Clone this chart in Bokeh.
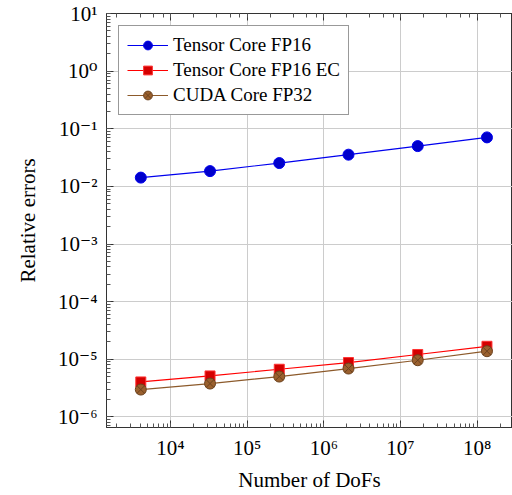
from bokeh.plotting import figure
from bokeh.models import LogAxis, CustomJSTickFormatter, Range1d, LogTicker
from bokeh.embed import file_html
from bokeh.resources import INLINE

# ---- data ----
dofs = [4096, 32768, 262144, 2097152, 16777216, 134217728]
tc_fp16 = [0.0142, 0.0184, 0.0254, 0.0355, 0.0500, 0.0708]
tc_fp16_ec = [4.04e-6, 5.14e-6, 6.71e-6, 8.77e-6, 1.21e-5, 1.68e-5]
cuda_fp32 = [2.98e-6, 3.79e-6, 5.01e-6, 6.90e-6, 9.62e-6, 1.38e-5]
series_names = ["Tensor Core FP16", "Tensor Core FP16 EC", "CUDA Core FP32"]
x_label = "Number of DoFs"
y_label = "Relative errors"

SERIF = "Liberation Serif, DejaVu Serif"

sup_code = """
const sup = {'0':'\u2070','1':'\u00b9','2':'\u00b2','3':'\u00b3','4':'\u2074','5':'\u2075','6':'\u2076','7':'\u2077','8':'\u2078','9':'\u2079','-':'\u207b'};
const e = Math.round(Math.log10(tick));
return '10' + String(e).split('').map(c => sup[c]).join('');
"""

p = figure(frame_width=406, frame_height=414,
           x_axis_type="log", y_axis_type="log",
           x_range=Range1d(1462, 2.89e8), y_range=Range1d(10 ** -6.184, 10),
           output_backend="svg", toolbar_location=None,
           min_border_left=106, min_border_right=0, min_border_top=13, min_border_bottom=66)

p.background_fill_color = "white"
p.border_fill_color = "white"
p.outline_line_color = "#333333"
p.outline_line_width = 1

for ax in (p.xaxis[0], p.yaxis[0]):
    ax.formatter = CustomJSTickFormatter(code=sup_code)
    ax.major_tick_in = 7
    ax.major_tick_out = 0
    ax.minor_tick_in = 4
    ax.minor_tick_out = 0
    ax.axis_line_color = "#333333"
    ax.major_tick_line_color = "#333333"
    ax.minor_tick_line_color = "#555555"
    ax.major_label_text_font = SERIF
    ax.major_label_text_font_size = "21px"
    ax.major_label_text_color = "black"
    ax.axis_label_text_font = SERIF
    ax.axis_label_text_font_size = "21px"
    ax.axis_label_text_font_style = "normal"
    ax.axis_label_text_color = "black"

p.xaxis.axis_label = x_label
p.yaxis.axis_label = y_label
p.xaxis.major_label_standoff = 8
p.xaxis.axis_label_standoff = 5
p.yaxis.major_label_standoff = 9
p.yaxis.axis_label_standoff = 15

top = LogAxis(ticker=LogTicker(), formatter=CustomJSTickFormatter(code="return ''"),
              major_tick_in=7, major_tick_out=0, minor_tick_in=4, minor_tick_out=0,
              major_label_standoff=0, major_label_text_font_size="0px",
              axis_line_color="#333333", major_tick_line_color="#333333",
              minor_tick_line_color="#555555")
p.add_layout(top, "above")

p.grid.grid_line_color = "#cccccc"
p.grid.grid_line_width = 1

# Tensor Core FP16
p.line(dofs, tc_fp16, line_color="#0000ee", line_width=1.2, legend_label=series_names[0])
p.scatter(dofs, tc_fp16, marker="circle", size=11, fill_color="#0000cc",
          line_color="#0000ee", legend_label=series_names[0])
# Tensor Core FP16 EC
p.line(dofs, tc_fp16_ec, line_color="#ff0000", line_width=1.2, legend_label=series_names[1])
p.scatter(dofs, tc_fp16_ec, marker="square", size=10, fill_color="#d40000",
          line_color="#ff3333", legend_label=series_names[1])
# CUDA Core FP32
p.line(dofs, cuda_fp32, line_color="#8c5a2b", line_width=1.2, legend_label=series_names[2])
p.scatter(dofs, cuda_fp32, marker="circle_x", size=11, fill_color="#9a602e",
          line_color="#6b421e", legend_label=series_names[2])

lg = p.legend[0]
lg.location = "top_left"
lg.margin = 12
lg.padding = 8
lg.spacing = 3
lg.glyph_width = 41
lg.glyph_height = 22
lg.label_standoff = 5
lg.label_text_font = SERIF
lg.label_text_font_size = "19px"
lg.label_text_color = "black"
lg.border_line_color = "#333333"
lg.border_line_width = 1
lg.background_fill_color = "white"
lg.background_fill_alpha = 1.0

open("out.html", "w").write(file_html(p, INLINE))
